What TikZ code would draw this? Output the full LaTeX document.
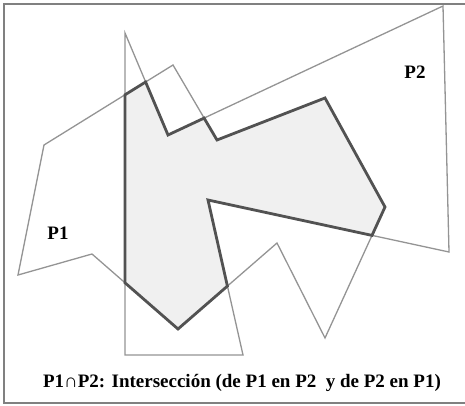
\documentclass[tikz,border=0pt]{standalone}
\usepackage{fontspec}
\setmainfont{Liberation Serif}
\begin{document}
\begin{tikzpicture}[x=1pt,y=-1pt,
  thinpoly/.style={draw=black!42,line width=1.3pt,line join=miter},
  interfill/.style={fill=black!6},
  thickpoly/.style={draw=black!68,line width=2.8pt,line join=miter},
  framebox/.style={draw=black!50,line width=2pt},
  lbl/.style={font=\bfseries\fontsize{19}{22}\selectfont,inner sep=0pt},
  caption/.style={font=\bfseries\fontsize{19}{22}\selectfont,inner sep=0pt}]
\useasboundingbox (0,0) rectangle (465,406);
% P1 vertices
\coordinate (a1) at (44,145);
\coordinate (b1) at (173,65);
\coordinate (c1) at (217,140);
\coordinate (d1) at (325,98);
\coordinate (e1) at (385,207);
\coordinate (f1) at (325,338);
\coordinate (g1) at (277,243);
\coordinate (h1) at (178,329);
\coordinate (i1) at (92,254);
\coordinate (j1) at (18,275);
% P2 vertices
\coordinate (a2) at (125,33);
\coordinate (b2) at (168,135);
\coordinate (c2) at (443,6);
\coordinate (d2) at (449,252);
\coordinate (e2) at (208,200);
\coordinate (f2) at (243,355);
\coordinate (g2) at (125,355);
% intersection points
\coordinate (x1) at (125,94.8);
\coordinate (x2) at (145.6,82.0);
\coordinate (x3) at (204.1,118.1);
\coordinate (x4) at (372.0,235.4);
\coordinate (x5) at (227.4,286.1);
\coordinate (x6) at (125,282.8);
% intersection fill
\path[interfill] (x1) -- (x2) -- (b2) -- (x3) -- (c1) -- (d1) -- (e1) -- (x4)
  -- (e2) -- (x5) -- (h1) -- (x6) -- cycle;
% P1 and P2 outlines
\draw[thinpoly] (a1) -- (b1) -- (c1) -- (d1) -- (e1) -- (f1) -- (g1) -- (h1) -- (i1) -- (j1) -- cycle;
\draw[thinpoly] (a2) -- (b2) -- (c2) -- (d2) -- (e2) -- (f2) -- (g2) -- cycle;
% intersection outline
\draw[thickpoly] (x1) -- (x2) -- (b2) -- (x3) -- (c1) -- (d1) -- (e1) -- (x4)
  -- (e2) -- (x5) -- (h1) -- (x6) -- cycle;
% frame (open on the right)
\coordinate (fr1) at (470,4.5);
\coordinate (fr2) at (4,4.5);
\coordinate (fr3) at (4,403);
\coordinate (fr4) at (470,403);
\draw[framebox] (fr1) -- (fr2) -- (fr3) -- (fr4);
% labels
\node[lbl] (p1) at (58,233) {P1};
\node[lbl] (p2) at (415,72) {P2};
\node[caption] (cap) at (242,383) {P1∩P2: Intersección (de P1 en P2\ \ y de P2 en P1)};
\end{tikzpicture}
\end{document}
